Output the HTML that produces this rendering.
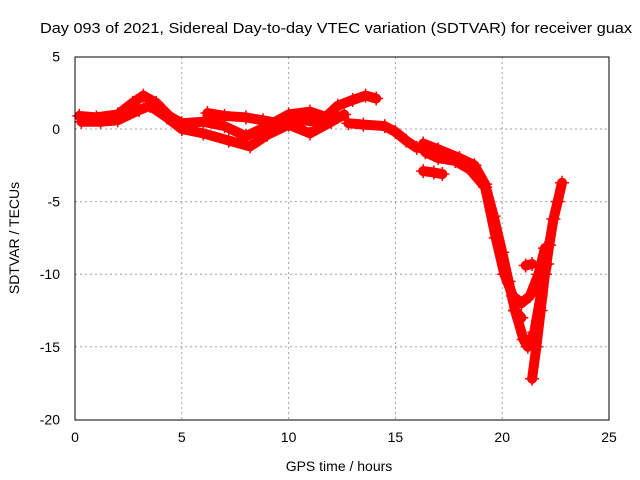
<!DOCTYPE html>
<html><head><meta charset="utf-8"><style>
body{margin:0;background:#fff}
svg{display:block;font-family:"Liberation Sans",sans-serif;font-size:14px}
</style></head><body>
<svg id="chart" width="640" height="480">
<text x="40" y="33" textLength="592" lengthAdjust="spacingAndGlyphs" style="font-size:15px">Day 093 of 2021, Sidereal Day-to-day VTEC variation (SDTVAR) for receiver guax</text>
<g id="grid"></g>
<g id="series"></g>
<rect x="75" y="57" width="534" height="363" fill="none" stroke="#000" stroke-width="1"/>
<g id="ticks"></g>
<text x="339" y="471" text-anchor="middle">GPS time / hours</text>
<text transform="translate(19,238) rotate(-90)" text-anchor="middle">SDTVAR / TECUs</text>
</svg>
<script>
const xTicks=[0,5,10,15,20,25];
const yTicks=[5,0,-5,-10,-15,-20];
const trackA=[[0.2,0.9],[1,0.8],[2,1.0],[2.7,1.8],[3.2,2.3],[3.8,1.8],[4.4,0.9],[5,0.4],[6,0.5],[7,0.2],[8,-0.5],[9,0.2],[10,1.0],[11,1.2],[11.8,0.8]];
const trackB=[[0.3,0.5],[1.2,0.5],[2,0.6],[3,1.3],[3.5,1.6],[4.3,0.8],[5,0.0],[6,-0.3],[7.2,-0.8],[8.2,-1.2],[9,-0.4],[10,0.3],[11,-0.3],[12,0.5],[12.6,1.0]];
const trackC=[[6.2,1.1],[7,0.9],[8,0.8],[8.8,0.6],[9.5,0.4],[10.5,0.6],[11.5,0.5],[12.3,1.6],[13,2.0],[13.6,2.3],[14.1,2.1]];
const trackD=[[12.8,0.4],[13.5,0.3],[14.5,0.2],[15,-0.2],[15.5,-0.8],[16,-1.3]];
const trackE=[[16.3,-1.0],[17,-1.4],[18,-2.0],[18.7,-2.5],[19.2,-3.8],[19.6,-6],[20,-8.5],[20.3,-10.5],[20.6,-12.5],[21,-14.5],[21.2,-15],[21.5,-14],[21.8,-11.5],[22.1,-9.3]];
const trackF=[[16.4,-1.6],[17,-2.0],[17.8,-2.2],[18.5,-2.8],[19.2,-4],[19.7,-7.5],[20.1,-10],[20.5,-11.5],[20.9,-12],[21.3,-11.5],[21.7,-10],[22.0,-8.2]];
const trackG=[[21.4,-17.2],[21.6,-15],[21.8,-12.5],[22,-10],[22.2,-8],[22.4,-6.2],[22.6,-5],[22.8,-3.7]];
const trackH=[[16.3,-2.9],[16.8,-3.0],[17.2,-3.1]];
const trackI=[[20.6,-12.5],[20.9,-13.0]];
const trackJ=[[21.1,-9.4],[21.4,-9.3]];
const tracks=[trackA,trackB,trackC,trackD,trackE,trackF,trackG,trackH,trackI,trackJ];
const NS="http://www.w3.org/2000/svg";
const X=t=>75+t*534/25, Y=v=>129-v*363/25;
const grid=document.getElementById('grid'),ticks=document.getElementById('ticks'),ser=document.getElementById('series');
function mk(tag,at,p){const e=document.createElementNS(NS,tag);for(const k in at)e.setAttribute(k,at[k]);p.appendChild(e);return e;}
xTicks.forEach(t=>{
 if(t>0&&t<25){const l=mk('line',{x1:X(t),x2:X(t),y1:57,y2:420,stroke:'#a0a0a0','stroke-dasharray':'2,3'},grid);
 
 }
 const tx=mk('text',{x:X(t),y:442,'text-anchor':'middle'},ticks);tx.textContent=t;
 
 
});
yTicks.forEach(v=>{
 if(v<5&&v>-20){const l=mk('line',{x1:75,x2:609,y1:Y(v),y2:Y(v),stroke:'#a0a0a0','stroke-dasharray':'2,3'},grid);
 
 }
 const tx=mk('text',{x:60,y:Y(v)+5,'text-anchor':'end'},ticks);tx.textContent=v;
 
 
});
tracks.forEach((tr,i)=>{
 const g=mk('g',{},ser);
 
 
 mk('polyline',{points:tr.map(p=>X(p[0])+','+Y(p[1])).join(' '),fill:'none',stroke:'#f00','stroke-width':10,'stroke-linejoin':'round','stroke-linecap':'round'},g);
 tr.forEach(p=>{
  const pl=mk('path',{d:`M${X(p[0])-7},${Y(p[1])}h14M${X(p[0])},${Y(p[1])-7}v14`,stroke:'#f00','stroke-width':1.5},g);
  
  
 });
});
</script>
</body></html>
